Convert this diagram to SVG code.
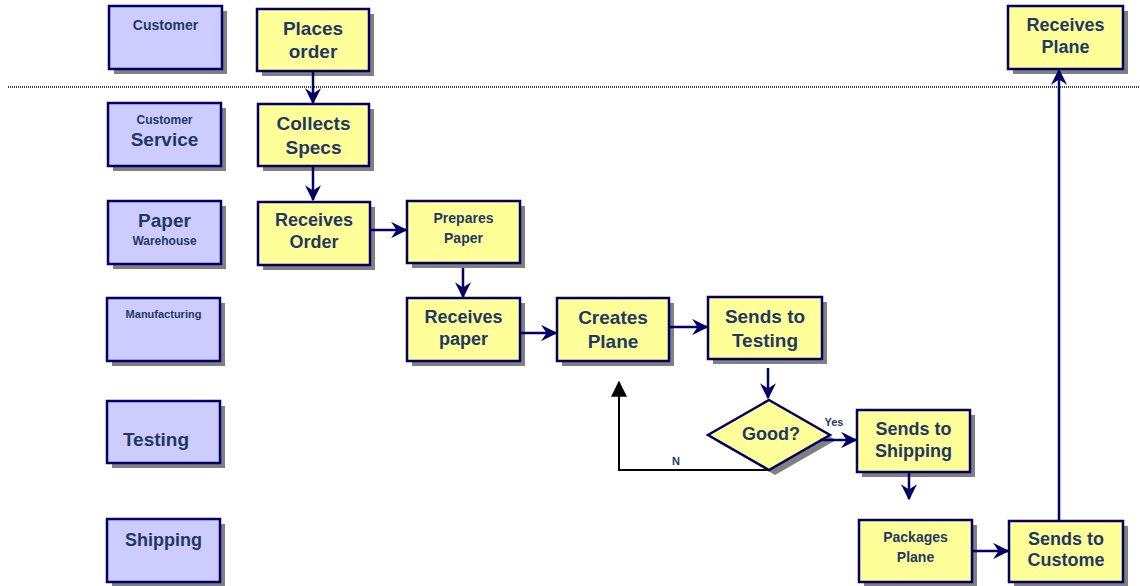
<svg xmlns="http://www.w3.org/2000/svg" width="1140" height="586" viewBox="0 0 1140 586">
  <style>
    .lane rect.box { fill: #CCCCFF; stroke: #000066; stroke-width: 2.5; }
    .step rect.box, .step polygon.box { fill: #FFFF99; stroke: #000066; stroke-width: 2.5; }
    .shadow { fill: #808080; }
    text { font-family: "Liberation Sans", Arial, sans-serif; font-weight: bold; fill: #1F3864; text-anchor: middle; }
    .t19 { font-size: 19px; }
    .t18 { font-size: 18px; }
    .t14 { font-size: 14px; }
    .t12 { font-size: 12px; }
    .t11 { font-size: 11px; }
    .flow { stroke: #000066; stroke-width: 2.5; fill: none; marker-end: url(#arrow); }
    .back { stroke: #000000; stroke-width: 2; fill: none; marker-end: url(#arrowBlack); }
  </style>
  <defs>
    <marker id="arrow" viewBox="0 0 12 12" refX="11" refY="6" markerWidth="6.5" markerHeight="6.5" markerUnits="strokeWidth" orient="auto">
      <path d="M0,0 L12,6 L0,12 L4,6 Z" fill="#000066"/>
    </marker>
    <marker id="arrowBlack" viewBox="0 0 12 12" refX="11" refY="6" markerWidth="8" markerHeight="8" markerUnits="strokeWidth" orient="auto">
      <path d="M0,0 L12,6 L0,12 Z" fill="#000000"/>
    </marker>
  </defs>

  <rect width="1140" height="586" fill="#FFFFFF"/>

  <!-- boundary between customer and company -->
  <line x1="8" y1="87" x2="1140" y2="87" stroke="#000000" stroke-width="1.5" stroke-dasharray="1,1"/>

  <!-- swimlane headers -->
  <g id="lane-customer" class="lane">
    <rect class="shadow" x="114" y="11" width="113" height="63"/>
    <rect class="box" x="109" y="6" width="113" height="63"/>
    <text class="t14" x="165.5" y="30">Customer</text>
  </g>
  <g id="lane-customer-service" class="lane">
    <rect class="shadow" x="113" y="108" width="113" height="63"/>
    <rect class="box" x="108" y="103" width="113" height="63"/>
    <text class="t12" x="164.5" y="124">Customer</text>
    <text class="t19" x="164.5" y="146">Service</text>
  </g>
  <g id="lane-paper-warehouse" class="lane">
    <rect class="shadow" x="113" y="206" width="113" height="63"/>
    <rect class="box" x="108" y="201" width="113" height="63"/>
    <text class="t19" x="164.5" y="227">Paper</text>
    <text class="t12" x="164.5" y="245">Warehouse</text>
  </g>
  <g id="lane-manufacturing" class="lane">
    <rect class="shadow" x="112" y="303" width="113" height="63"/>
    <rect class="box" x="107" y="298" width="113" height="63"/>
    <text class="t11" x="163.5" y="318">Manufacturing</text>
  </g>
  <g id="lane-testing" class="lane">
    <rect class="shadow" x="112" y="406" width="113" height="62"/>
    <rect class="box" x="107" y="401" width="113" height="62"/>
    <text class="t19" x="156" y="446">Testing</text>
  </g>
  <g id="lane-shipping" class="lane">
    <rect class="shadow" x="112" y="524" width="113" height="63"/>
    <rect class="box" x="107" y="519" width="113" height="63"/>
    <text class="t18" x="163.5" y="546">Shipping</text>
  </g>

  <!-- process steps -->
  <g id="places-order" class="step">
    <rect class="shadow" x="262" y="14" width="112" height="62"/>
    <rect class="box" x="257" y="9" width="112" height="62"/>
    <text class="t19" x="313" y="35">Places</text>
    <text class="t19" x="313" y="58">order</text>
  </g>
  <g id="collects-specs" class="step">
    <rect class="shadow" x="263" y="109" width="111" height="62"/>
    <rect class="box" x="258" y="104" width="111" height="62"/>
    <text class="t19" x="313.5" y="130">Collects</text>
    <text class="t19" x="313.5" y="154">Specs</text>
  </g>
  <g id="receives-order" class="step">
    <rect class="shadow" x="263" y="207" width="112" height="63"/>
    <rect class="box" x="258" y="202" width="112" height="63"/>
    <text class="t18" x="314" y="226">Receives</text>
    <text class="t18" x="314" y="248">Order</text>
  </g>
  <g id="prepares-paper" class="step">
    <rect class="shadow" x="412" y="206" width="113" height="62"/>
    <rect class="box" x="407" y="201" width="113" height="62"/>
    <text class="t14" x="463.5" y="223">Prepares</text>
    <text class="t14" x="463.5" y="243">Paper</text>
  </g>
  <g id="receives-paper" class="step">
    <rect class="shadow" x="412" y="303" width="113" height="63"/>
    <rect class="box" x="407" y="298" width="113" height="63"/>
    <text class="t18" x="463.5" y="323">Receives</text>
    <text class="t18" x="463.5" y="345">paper</text>
  </g>
  <g id="creates-plane" class="step">
    <rect class="shadow" x="562" y="303" width="112" height="63"/>
    <rect class="box" x="557" y="298" width="112" height="63"/>
    <text class="t19" x="613" y="324">Creates</text>
    <text class="t19" x="613" y="348">Plane</text>
  </g>
  <g id="sends-to-testing" class="step">
    <rect class="shadow" x="713" y="302" width="114" height="62"/>
    <rect class="box" x="708" y="297" width="114" height="62"/>
    <text class="t19" x="765" y="323">Sends to</text>
    <text class="t19" x="765" y="347">Testing</text>
  </g>
  <g id="good-decision" class="step">
    <polygon class="shadow" points="775,405 836,440 775,475 714,440"/>
    <polygon class="box" points="769,400 830,435 769,470 708,435"/>
    <text class="t18" x="771" y="440">Good?</text>
  </g>
  <g id="sends-to-shipping" class="step">
    <rect class="shadow" x="862" y="415" width="113" height="62"/>
    <rect class="box" x="857" y="410" width="113" height="62"/>
    <text class="t18" x="913.5" y="435">Sends to</text>
    <text class="t18" x="913.5" y="457">Shipping</text>
  </g>
  <g id="packages-plane" class="step">
    <rect class="shadow" x="864" y="525" width="113" height="62"/>
    <rect class="box" x="859" y="520" width="113" height="62"/>
    <text class="t14" x="915.5" y="542">Packages</text>
    <text class="t14" x="915.5" y="562">Plane</text>
  </g>
  <g id="sends-to-customer" class="step">
    <rect class="shadow" x="1014" y="526" width="114" height="61"/>
    <rect class="box" x="1009" y="521" width="114" height="61"/>
    <text class="t18" x="1066" y="545">Sends to</text>
    <text class="t18" x="1066" y="566">Custome</text>
  </g>
  <g id="receives-plane" class="step">
    <rect class="shadow" x="1013" y="11" width="115" height="63"/>
    <rect class="box" x="1008" y="6" width="115" height="63"/>
    <text class="t18" x="1065.5" y="31">Receives</text>
    <text class="t18" x="1065.5" y="53">Plane</text>
  </g>

  <!-- connectors -->
  <g id="connectors">
    <line class="flow" x1="313" y1="72" x2="313" y2="103"/>
    <line class="flow" x1="313" y1="167" x2="313" y2="200"/>
    <line class="flow" x1="371" y1="230" x2="406" y2="230"/>
    <line class="flow" x1="463" y1="268" x2="463" y2="297"/>
    <line class="flow" x1="521" y1="333" x2="556" y2="333"/>
    <line class="flow" x1="670" y1="327" x2="707" y2="327"/>
    <line class="flow" x1="768" y1="368" x2="768" y2="398"/>
    <line class="flow" x1="820" y1="440" x2="856" y2="440"/>
    <line class="flow" x1="909" y1="473" x2="909" y2="499"/>
    <line class="flow" x1="973" y1="551" x2="1008" y2="551"/>
    <line class="flow" x1="1059" y1="520" x2="1059" y2="70"/>
    <polyline class="back" points="769,470 619,470 619,382"/>
    <text class="t11" x="834" y="426">Yes</text>
    <text class="t11" x="676" y="465">N</text>
  </g>
</svg>
